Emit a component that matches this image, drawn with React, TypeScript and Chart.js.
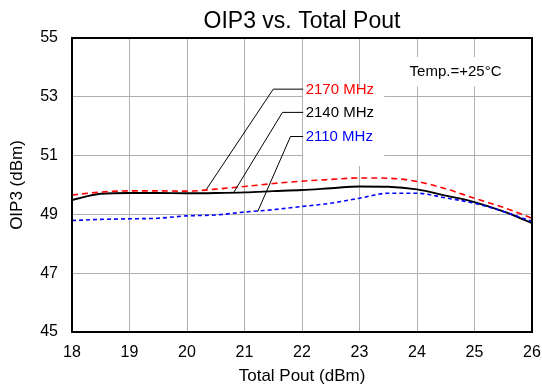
import React, { useEffect, useRef } from "react";
import { Chart, registerables } from "chart.js";

Chart.register(...registerables);

const xValues = [18, 18.5, 19, 19.5, 20, 20.5, 21, 21.5, 22, 22.5, 23, 23.5, 24, 24.5, 25, 25.5, 26];
const oip3_2170 = [49.66, 49.76, 49.8, 49.8, 49.79, 49.86, 49.95, 50.05, 50.13, 50.19, 50.24, 50.23, 50.12, 49.87, 49.55, 49.24, 48.87];
const oip3_2140 = [49.49, 49.7, 49.73, 49.73, 49.72, 49.73, 49.75, 49.79, 49.83, 49.89, 49.95, 49.94, 49.85, 49.64, 49.42, 49.1, 48.7];
const oip3_2110 = [48.79, 48.83, 48.85, 48.87, 48.95, 48.98, 49.08, 49.16, 49.27, 49.38, 49.55, 49.72, 49.72, 49.56, 49.38, 49.1, 48.76];

const xTicks = [18, 19, 20, 21, 22, 23, 24, 25, 26];
const yTicks = [45, 47, 49, 51, 53, 55];

// Callout labels: text, colour, point on curve, elbow point, end of horizontal (data units)
const labelTexts = ["2170 MHz", "2140 MHz", "2110 MHz"];
const labelColors = ["#ff0000", "#000000", "#0000ff"];
const labelCurveX = [20.34, 20.81, 21.23];
const labelCurveY = [49.86, 49.74, 49.1];
const labelElbowX = [21.5, 21.66, 21.8];
const labelElbowY = [53.26, 52.47, 51.65];
const labelEndX = 22.02;
const labelBox = { x1: 22.02, x2: 23.43, y1: 53.31, y2: 50.65 };
const tempText = "Temp.=+25°C";
const tempPos = { x: 24.67, y: 53.85 };
const tempBox = { x1: 23.75, x2: 25.6, y1: 54.35, y2: 53.35 };

const FONT = "'Liberation Sans', Arial, sans-serif";

const annotPlugin = {
  id: "annot",
  beforeDatasetsDraw(chart: any) {
    const { ctx } = chart;
    const xs = chart.scales.x;
    const ys = chart.scales.y;
    ctx.save();
    ctx.fillStyle = "#ffffff";
    for (const b of [labelBox, tempBox]) {
      const x1 = xs.getPixelForValue(b.x1);
      const x2 = xs.getPixelForValue(b.x2);
      const y1 = ys.getPixelForValue(b.y1);
      const y2 = ys.getPixelForValue(b.y2);
      ctx.fillRect(x1, y1, x2 - x1, y2 - y1);
    }
    ctx.restore();
  },
  afterDatasetsDraw(chart: any) {
    const { ctx } = chart;
    const xs = chart.scales.x;
    const ys = chart.scales.y;
    ctx.save();
    ctx.lineWidth = 1;
    ctx.strokeStyle = "#000000";
    ctx.font = `15px ${FONT}`;
    ctx.textBaseline = "middle";
    ctx.textAlign = "left";
    for (let i = 0; i < labelTexts.length; i++) {
      const cx = xs.getPixelForValue(labelCurveX[i]);
      const cy = ys.getPixelForValue(labelCurveY[i]);
      const ex = xs.getPixelForValue(labelElbowX[i]);
      const ey = ys.getPixelForValue(labelElbowY[i]);
      const hx = xs.getPixelForValue(labelEndX);
      ctx.beginPath();
      ctx.moveTo(cx, cy);
      ctx.lineTo(ex, ey);
      ctx.lineTo(hx, ey);
      ctx.stroke();
      ctx.fillStyle = labelColors[i];
      ctx.fillText(labelTexts[i], hx + 2.5, ey + 0.5);
    }
    ctx.fillStyle = "#000000";
    ctx.textAlign = "center";
    ctx.fillText(tempText, xs.getPixelForValue(tempPos.x), ys.getPixelForValue(tempPos.y));
    // frame
    const a = chart.chartArea;
    ctx.lineWidth = 2;
    ctx.strokeRect(a.left, a.top, a.right - a.left, a.bottom - a.top);
    ctx.restore();
  },
};

export default function App() {
  const ref = useRef<HTMLCanvasElement | null>(null);
  useEffect(() => {
    document.body.style.margin = "0";
    const canvas = ref.current;
    if (!canvas) return;
    const mk = (vals: number[]) => xValues.map((x, i) => ({ x, y: vals[i] }));
    const chart = new Chart(canvas, {
      type: "line",
      data: {
        datasets: [
          {
            label: "2170 MHz",
            data: mk(oip3_2170),
            borderColor: "#ff0000",
            borderWidth: 1.6,
            borderDash: [6, 4],
            pointRadius: 0,
            cubicInterpolationMode: "monotone",
            fill: false,
          },
          {
            label: "2110 MHz",
            data: mk(oip3_2110),
            borderColor: "#0000ff",
            borderWidth: 1.6,
            borderDash: [4, 3],
            pointRadius: 0,
            cubicInterpolationMode: "monotone",
            fill: false,
          },
          {
            label: "2140 MHz",
            data: mk(oip3_2140),
            borderColor: "#000000",
            borderWidth: 1.9,
            pointRadius: 0,
            cubicInterpolationMode: "monotone",
            fill: false,
          },
        ],
      },
      options: {
        responsive: false,
        animation: false,
        layout: { padding: { left: 0, right: 10, top: 0, bottom: 0 } },
        plugins: {
          legend: { display: false },
          tooltip: { enabled: false },
          title: {
            display: true,
            text: "OIP3 vs. Total Pout",
            fullSize: false,
            color: "#000000",
            font: { family: FONT, size: 23, weight: "normal" },
            padding: { top: 8, bottom: 2.4 },
          },
        },
        scales: {
          x: {
            type: "linear",
            min: 18,
            max: 26,
            afterBuildTicks: (s: any) => {
              s.ticks = xTicks.map((v) => ({ value: v }));
            },
            afterFit: (s: any) => {
              s.height = 55;
              s.paddingLeft = 0;
              s.paddingRight = 0;
            },
            ticks: {
              color: "#000000",
              font: { family: FONT, size: 16 },
              padding: 11,
              maxRotation: 0,
            },
            grid: { color: "#b0b0b0", lineWidth: 1, drawTicks: false },
            border: { display: false },
            title: {
              display: true,
              text: "Total Pout (dBm)",
              color: "#000000",
              font: { family: FONT, size: 17 },
              padding: { top: 0, bottom: 0 },
            },
          },
          y: {
            type: "linear",
            min: 45,
            max: 55,
            afterBuildTicks: (s: any) => {
              s.ticks = yTicks.map((v) => ({ value: v }));
            },
            afterFit: (s: any) => {
              s.width = 72;
              s.paddingTop = 0;
              s.paddingBottom = 0;
            },
            ticks: {
              color: "#000000",
              font: { family: FONT, size: 16 },
              padding: 14,
            },
            grid: { color: "#b0b0b0", lineWidth: 1, drawTicks: false },
            border: { display: false },
            title: {
              display: true,
              text: "OIP3 (dBm)",
              color: "#000000",
              font: { family: FONT, size: 17 },
              padding: { top: 7, bottom: 0 },
            },
          },
        },
      },
      plugins: [annotPlugin],
    } as any);
    return () => chart.destroy();
  }, []);
  return (
    <div style={{ width: 542, height: 387 }}>
      <canvas ref={ref} width={542} height={387} style={{ width: 542, height: 387, display: "block" }} />
    </div>
  );
}
